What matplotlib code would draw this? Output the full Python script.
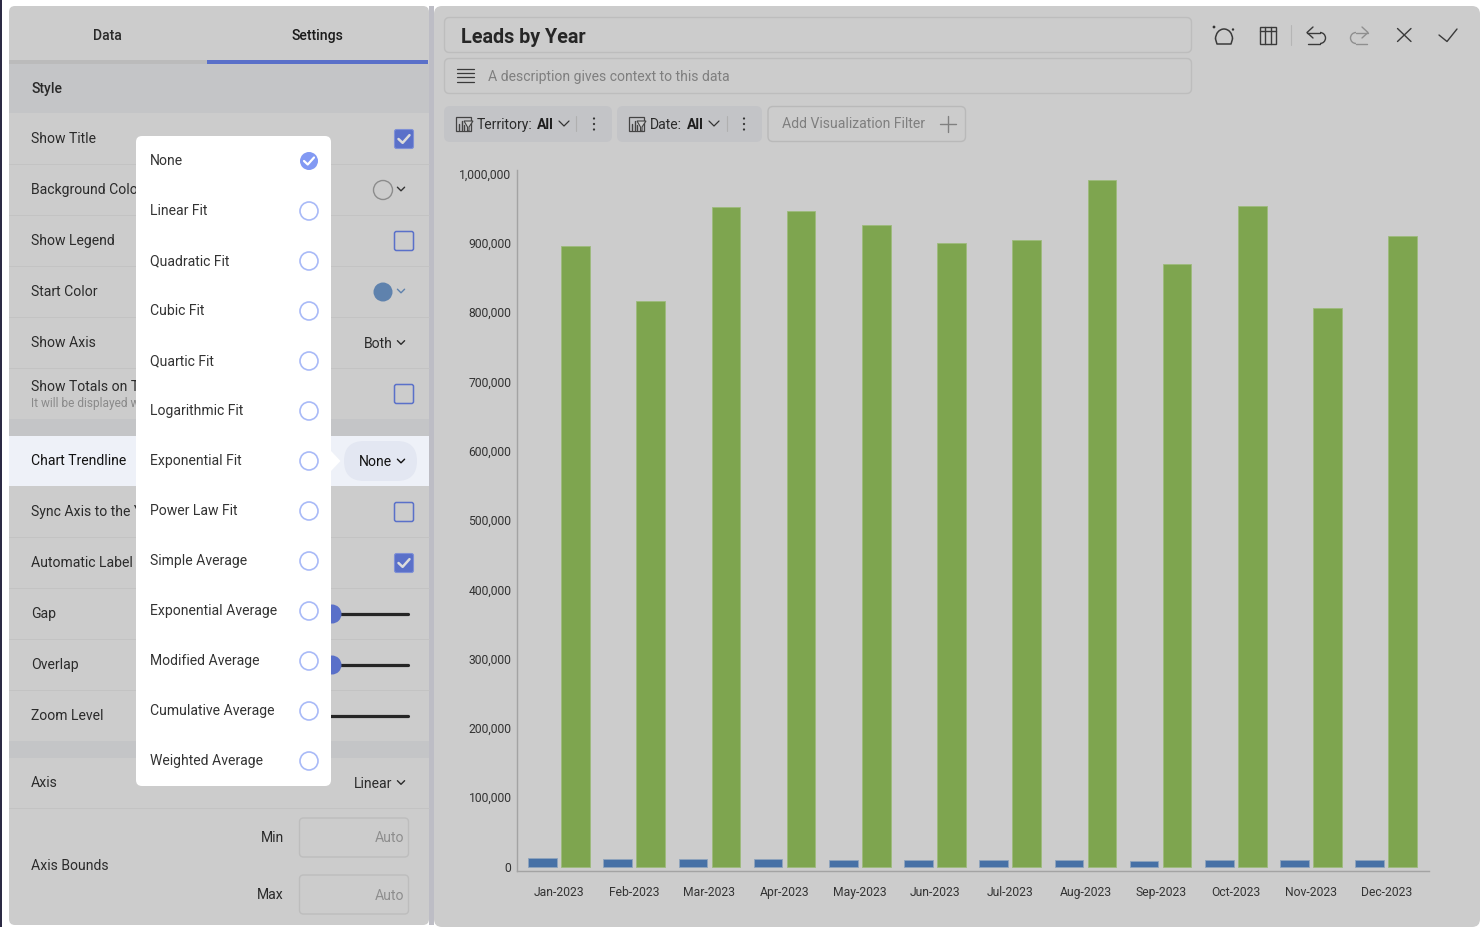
import matplotlib
matplotlib.use("Agg")
import matplotlib.pyplot as plt
from matplotlib.patches import FancyBboxPatch, Rectangle, Circle, Arc, Polygon
from matplotlib.ticker import FuncFormatter

plt.rcParams['font.family'] = ['Roboto', 'DejaVu Sans']

months = ['Jan-2023', 'Feb-2023', 'Mar-2023', 'Apr-2023', 'May-2023', 'Jun-2023',
          'Jul-2023', 'Aug-2023', 'Sep-2023', 'Oct-2023', 'Nov-2023', 'Dec-2023']
series_blue = [12000, 10500, 11000, 10500, 10000, 9500, 10000, 9000, 8500, 9500, 9500, 10000]
series_green = [895000, 816000, 951600, 946600, 926400, 899700,
                904700, 991300, 869400, 952400, 805200, 909100]
y_ticks = [0, 100000, 200000, 300000, 400000, 500000, 600000, 700000, 800000, 900000, 1000000]

trend_options = ['None', 'Linear Fit', 'Quadratic Fit', 'Cubic Fit', 'Quartic Fit',
                 'Logarithmic Fit', 'Exponential Fit', 'Power Law Fit', 'Simple Average',
                 'Exponential Average', 'Modified Average', 'Cumulative Average', 'Weighted Average']

BG = '#cccccc'
ACC = '#5a70c9'
TXT = '#2b2b2b'

W, H = 1480, 927
fig = plt.figure(figsize=(14.8, 9.27), dpi=100, facecolor='white')
ui = fig.add_axes([0, 0, 1, 1], zorder=0)
ui.set_xlim(0, W); ui.set_ylim(H, 0); ui.axis('off')


def T(x, y, s, size=10.1, color=TXT, ha='left', weight='normal', z=8):
    ui.text(x, y + 1, s, fontsize=size, color=color, ha=ha, va='center', weight=weight, zorder=z)


def RR(x, y, w, h, r=5, fc='none', ec='none', lw=1.0, z=2):
    ui.add_patch(FancyBboxPatch((x + r, y + r), w - 2 * r, h - 2 * r,
                                boxstyle=f'round,pad={r},rounding_size={r}',
                                fc=fc, ec=ec, lw=lw, zorder=z))


def L(xs, ys, c=TXT, lw=1.0, z=6):
    ui.plot(xs, ys, color=c, lw=lw, zorder=z, solid_capstyle='round', solid_joinstyle='round')


def chev(x, y, c=TXT, s=4, lw=1.0):
    L([x - s, x, x + s], [y - s / 2, y + s / 2, y - s / 2], c=c, lw=lw)


def check(x, y, c='white', s=6, lw=1.8):
    L([x - s, x - s * 0.25, x + s], [y, y + s * 0.7, y - s * 0.7], c=c, lw=lw)


def filter_icon(x, y):
    ui.add_patch(Rectangle((x, y - 7), 15, 14, fc='none', ec='#444444', lw=0.9, zorder=6))
    for dx, h in ((3, 6), (5.5, 9), (8, 5)):
        L([x + dx, x + dx], [y + 6, y + 6 - h], c='#444444', lw=1.0)
    ui.add_patch(Polygon([(x + 8, y - 3), (x + 17, y - 3), (x + 13, y + 3), (x + 13, y + 7), (x + 11.5, y + 7), (x + 11.5, y + 3)],
                         closed=True, fc=BG, ec='#444444', lw=0.8, zorder=7))


# page background
ui.add_patch(Rectangle((0, 0), 1.5, H, fc='#2c2a44', ec='none', zorder=1))
RR(9, 6, 420, 919, r=6, fc=BG, z=1)
ui.add_patch(Rectangle((429, 6), 5, 919, fc='#bdbdc5', ec='none', zorder=1))
RR(434, 6, 1046, 921, r=8, fc=BG, z=1)

# tabs
T(107, 35, 'Data', 10.1, '#2a2a2a', 'center', 'medium')
T(317, 35, 'Settings', 10.1, '#1a1a1a', 'center', 'medium')
ui.add_patch(Rectangle((9, 60), 198, 4, fc='#bbbbbb', ec='none', zorder=3))
ui.add_patch(Rectangle((207, 60), 221, 4, fc=ACC, ec='none', zorder=3))

# style band and group bands
ui.add_patch(Rectangle((9, 64), 420, 49, fc='#c4c5c7', ec='none', zorder=2))
ui.add_patch(Rectangle((9, 419), 420, 17, fc='#c4c5c7', ec='none', zorder=2))
ui.add_patch(Rectangle((9, 741), 420, 17, fc='#c4c5c7', ec='none', zorder=2))
T(31, 88, 'Style', 10.1, '#2a2a2a', 'left', 'medium')

# row separators
for y in [164, 215, 266, 317, 368, 537, 588, 639, 690, 808]:
    L([9, 429], [y, y], c='#c3c3c3', lw=0.7, z=2)

# rows
rows = [(138, 'Show Title'), (189, 'Background Colo'), (240, 'Show Legend'), (291, 'Start Color'),
        (342, 'Show Axis'), (511, 'Sync Axis to the Y'), (562, 'Automatic Label'), (613, 'Gap'),
        (664, 'Overlap'), (715, 'Zoom Level'), (782, 'Axis'), (865, 'Axis Bounds')]
for y, s in rows:
    T(31, y, s, z=3)
T(31, 386, 'Show Totals on T', z=3)
T(31, 402, 'It will be displayed w', 8.6, '#8a8a8a', z=3)

# active row
ui.add_patch(Rectangle((9, 436), 420, 50, fc='#eef1f8', ec='none', zorder=2))
T(31, 460, 'Chart Trendline', 10.1, '#111111', z=3)
RR(344, 441, 73, 40, r=20, fc='#e3e7f2', z=3)
T(359, 461, 'None', 10.1, '#111111')
chev(401, 461, c='#111111', s=3.6)


# checkboxes
def box(y, checked):
    if checked:
        RR(394.5, y - 9.5, 19, 19, r=2, fc=ACC, ec='#7f90d6', lw=0.8, z=3)
        check(404, y, c='#dcdcdc', s=5.5)
    else:
        RR(394.5, y - 9.5, 19, 19, r=2, fc='none', ec=ACC, lw=1.1, z=3)


box(139, True); box(241, False); box(394, False); box(512, False); box(563, True)

# colour pickers
ui.add_patch(Circle((383, 190), 9.5, fc='none', ec='#8c8c8c', lw=1.0, zorder=3))
chev(401, 189, c='#333333', s=3.6)
ui.add_patch(Circle((383, 292), 9.5, fc='#5f82ad', ec='none', zorder=3))
chev(401, 291, c='#5f82ad', s=3.6)
T(364, 343, 'Both')
chev(401, 342.5, s=3.6)
T(354, 783, 'Linear')
chev(401, 782.5, s=3.6)

# sliders
for y, knob in ((614, True), (665, True), (716, False)):
    L([300, 407.5], [y, y], c='#252525', lw=2.3, z=3)
    if knob:
        ui.add_patch(Circle((332, y), 9.5, fc=ACC, ec='none', zorder=4))

# axis bounds
T(284, 837, 'Min', ha='right')
T(284, 894, 'Max', ha='right')
for y in (818, 875):
    RR(299.5, y, 109, 39, r=4, fc='none', ec='#bdbdbd', lw=1.0, z=3)
T(404, 837.5, 'Auto', color='#8e8e8e', ha='right')
T(404, 894.5, 'Auto', color='#8e8e8e', ha='right')

# popup
RR(136, 136, 195, 650, r=6, fc='white', z=5)
ui.add_patch(Polygon([(331, 451), (340.5, 461), (331, 471)], closed=True, fc='white', ec='none', zorder=5))
for i, s in enumerate(trend_options):
    y = 160 + 50 * i
    T(150, y, s, 10.05, '#333333')
    if i == 0:
        ui.add_patch(Circle((309, y + 1), 9, fc='#8299f3', ec='none', zorder=6))
        check(309, y + 1, c='white', s=5, lw=1.6)
    else:
        ui.add_patch(Circle((309, y + 1), 9, fc='white', ec='#a9baf7', lw=1.2, zorder=6))

# title boxes
RR(444.5, 17.5, 747, 35, r=5, ec='#bdbdbd', lw=1.0)
T(461, 36, 'Leads by Year', 14.2, '#262626', 'left', 'bold')
RR(444.5, 58.5, 747, 35, r=5, ec='#bdbdbd', lw=1.0)
for i, y in enumerate((69, 73, 77, 81)):
    L([457, 474], [y + 0.5 * i / 3, y + 0.5 * i / 3], c='#3a3a3a', lw=0.9)
T(488, 76, 'A description gives context to this data', 10.1, '#7f7f7f')

# filter pills
RR(444, 106, 168, 36, r=6, fc='#c3c4c7', z=2)
filter_icon(456, 124)
T(477, 124, 'Territory:', 10.1, TXT)
T(537, 124, 'All', 10.1, '#1e1e1e', 'left', 'bold')
chev(564, 123.5, c='#333333', s=5, lw=0.9)
L([576, 576], [116, 131], c='#b0b0b0', lw=0.8)
for dy in (-5.5, 0, 5.5):
    ui.add_patch(Circle((594, 124 + dy), 1.1, fc='#333333', ec='none', zorder=6))

RR(617, 106, 145, 36, r=6, fc='#c3c4c7', z=2)
filter_icon(629, 124)
T(650, 124, 'Date:', 10.1, TXT)
T(687, 124, 'All', 10.1, '#1e1e1e', 'left', 'bold')
chev(714, 123.5, c='#333333', s=5, lw=0.9)
L([727, 727], [116, 131], c='#b0b0b0', lw=0.8)
for dy in (-5.5, 0, 5.5):
    ui.add_patch(Circle((744, 124 + dy), 1.1, fc='#333333', ec='none', zorder=6))

RR(768, 106.5, 197.5, 35, r=5, ec='#b9b9b9', lw=1.0)
T(782, 123, 'Add Visualization Filter', 10.1, '#7f7f7f')
L([940, 956], [124, 124], c='#808080', lw=1.0)
L([948, 948], [116, 132], c='#808080', lw=1.0)

# toolbar icons
ui.add_patch(Arc((1224, 39), 17, 20, theta1=180, theta2=360, ec='#3a3a3a', lw=1.1, zorder=6))
L([1215.5, 1217, 1231, 1232.5], [39, 44, 44, 39], c='#3a3a3a', lw=1.1)
ui.add_patch(Circle((1214, 27), 1.4, fc='#333333', ec='none', zorder=6))
ui.add_patch(Circle((1233, 29.5), 1.2, fc='#333333', ec='none', zorder=6))
ui.add_patch(Rectangle((1259.5, 27), 16.5, 16.5, fc='none', ec='#3a3a3a', lw=1.0, zorder=6))
L([1259.5, 1276], [31, 31], c='#3a3a3a', lw=1.0)
for x in (1265, 1270.5):
    L([x, x], [27, 43.5], c='#3a3a3a', lw=1.0)
L([1290.5, 1290.5], [25, 45], c='#b5b5b5', lw=0.8)
L([1313, 1307, 1313], [27, 32.5, 38], c='#3a3a3a', lw=1.0)
L([1307, 1320], [32.5, 32.5], c='#3a3a3a', lw=1.0)
ui.add_patch(Arc((1320, 38), 11, 11, theta1=-90, theta2=90, ec='#3a3a3a', lw=1.0, zorder=6))
L([1320, 1308], [43.5, 43.5], c='#3a3a3a', lw=1.0)
L([1362, 1368, 1362], [27, 32.5, 38], c='#8f8f8f', lw=1.0)
L([1368, 1356], [32.5, 32.5], c='#8f8f8f', lw=1.0)
ui.add_patch(Arc((1356, 38), 11, 11, theta1=90, theta2=270, ec='#8f8f8f', lw=1.0, zorder=6))
L([1356, 1367], [43.5, 43.5], c='#8f8f8f', lw=1.0)
L([1397.5, 1411], [28.5, 41.5], c='#3a3a3a', lw=1.0)
L([1411, 1397.5], [28.5, 41.5], c='#3a3a3a', lw=1.0)
L([1439, 1447, 1457], [35, 41.5, 29], c='#3a3a3a', lw=1.0)

# chart
px_left, px_right, px_top, px_bottom, px_zero = 517, 1429, 170, 871, 866.5
ax = fig.add_axes([px_left / W, 1 - px_bottom / H, (px_right - px_left) / W, (px_bottom - px_top) / H],
                  zorder=1, facecolor='none')
xs = list(range(len(months)))
ax.bar([x - 0.22 for x in xs], series_blue, width=0.38, color='#4771a6', edgecolor='#8fa5bd', linewidth=0.6)
ax.bar([x + 0.22 for x in xs], series_green, width=0.38, color='#7ea54f', edgecolor='#9dbb7c', linewidth=0.6)
ax.set_xlim(-0.558, (px_right - 559) / 75.2)
ax.set_ylim((px_zero - px_bottom) / 693 * 1e6, (px_zero - px_top) / 693 * 1e6)
ax.set_xticks(xs, months)
ax.set_yticks(y_ticks)
ax.yaxis.set_major_formatter(FuncFormatter(lambda v, _: f'{int(v):,}'))
ax.tick_params(axis='both', length=0, labelsize=8.75, labelcolor='#333333')
ax.tick_params(axis='x', pad=11)
ax.tick_params(axis='y', pad=4)
for s in ('top', 'right'):
    ax.spines[s].set_visible(False)
for s in ('left', 'bottom'):
    ax.spines[s].set_color('#a3a3a3')
    ax.spines[s].set_linewidth(1.0)

fig.savefig('out.png', dpi=100, facecolor='white')
